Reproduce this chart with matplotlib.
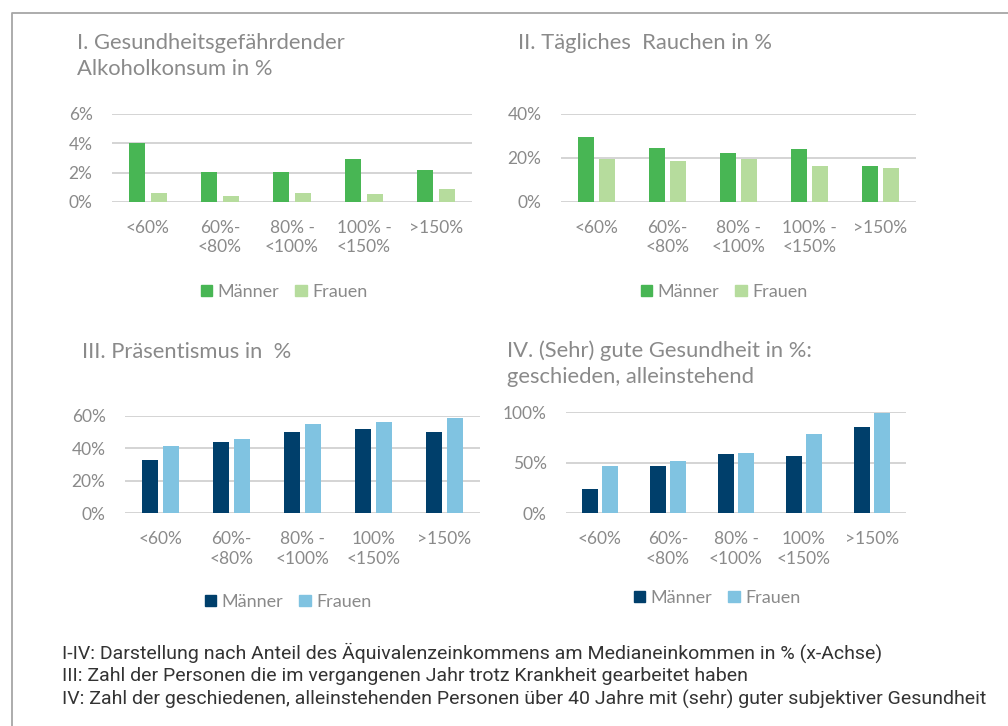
import matplotlib
matplotlib.use("Agg")
import matplotlib.pyplot as plt
from matplotlib.patches import Patch
from matplotlib.lines import Line2D
import numpy as np

categories_a = ["<60%", "60%-\n<80%", "80% -\n<100%", "100% -\n<150%", ">150%"]
categories_b = ["<60%", "60%-\n<80%", "80% -\n<100%", "100%\n<150%", ">150%"]

alkohol_m = [4.0, 2.05, 2.05, 2.9, 2.2]
alkohol_f = [0.62, 0.42, 0.62, 0.52, 0.88]
rauchen_m = [29.5, 24.7, 22.3, 24.1, 16.2]
rauchen_f = [19.6, 18.5, 19.6, 16.2, 15.4]
praes_m = [33.0, 43.6, 50.0, 52.0, 50.0]
praes_f = [41.4, 45.8, 55.0, 56.0, 58.3]
gesund_m = [24.5, 46.5, 58.5, 56.8, 85.8]
gesund_f = [46.8, 51.7, 60.0, 78.8, 99.5]

titles = ["I. Gesundheitsgefährdender\nAlkoholkonsum in %",
          "II. Tägliches  Rauchen in %",
          "III. Präsentismus in  %",
          "IV. (Sehr) gute Gesundheit in %:\ngeschieden, alleinstehend"]
footnotes = [
    "I-IV: Darstellung nach Anteil des Äquivalenzeinkommens am Medianeinkommen in % (x-Achse)",
    "III: Zahl der Personen die im vergangenen Jahr trotz Krankheit gearbeitet haben",
    "IV: Zahl der geschiedenen, alleinstehenden Personen über 40 Jahre mit (sehr) guter subjektiver Gesundheit",
]

GREEN = "#48b654"
LGREEN = "#b6dc9d"
DBLUE = "#003f6b"
LBLUE = "#80c3e1"
GRID = "#d4d4d4"
TXT = "#8a8a8a"

FONT = ["Lato", "DejaVu Sans"]
plt.rcParams['font.family'] = FONT

W, H = 1008, 726
fig = plt.figure(figsize=(W / 100, H / 100), dpi=100)


def px_axes(left, right, top, bottom):
    return fig.add_axes([left / W, 1 - bottom / H, (right - left) / W, (bottom - top) / H])


panels = [
    dict(box=(112, 472, 114, 202), m=alkohol_m, f=alkohol_f, cats=categories_a, ymax=6, step=2,
         cm=GREEN, cf=LGREEN, bw=0.222, off=0.146, title=titles[0], tpos=(77, 33),
         leg=(284, 292)),
    dict(box=(561, 916, 114, 202), m=rauchen_m, f=rauchen_f, cats=categories_a, ymax=40, step=20,
         cm=GREEN, cf=LGREEN, bw=0.225, off=0.148, title=titles[1], tpos=(518, 33),
         leg=(724, 292)),
    dict(box=(125, 480, 415.7, 513.3), m=praes_m, f=praes_f, cats=categories_b, ymax=60, step=20,
         cm=DBLUE, cf=LBLUE, bw=0.225, off=0.148, title=titles[2], tpos=(82, 342),
         leg=(288, 602)),
    dict(box=(566, 906, 412.3, 513.3), m=gesund_m, f=gesund_f, cats=categories_b, ymax=100, step=50,
         cm=DBLUE, cf=LBLUE, bw=0.235, off=0.14, title=titles[3], tpos=(507, 340),
         leg=(717, 598)),
]

for p in panels:
    ax = px_axes(*p["box"])
    x = np.arange(len(p["cats"]))
    ax.bar(x - p["off"], p["m"], width=p["bw"], color=p["cm"], zorder=3)
    ax.bar(x + p["off"], p["f"], width=p["bw"], color=p["cf"], zorder=3)
    ax.set_xlim(-0.5, len(p["cats"]) - 0.5)
    ax.set_ylim(0, p["ymax"])
    yt = np.arange(0, p["ymax"] + 0.001, p["step"])
    ax.set_yticks(yt)
    ax.set_yticklabels([f"{int(v)}%" for v in yt])
    ax.set_xticks(x)
    ax.set_xticklabels(p["cats"], linespacing=1.25)
    for s in ax.spines.values():
        s.set_visible(False)
    ax.yaxis.grid(True, color=GRID, linewidth=1.4, zorder=0)
    ax.set_axisbelow(True)
    ax.tick_params(axis='both', length=0, labelsize=12.5, labelcolor=TXT)
    ax.tick_params(axis='x', pad=13)
    ax.tick_params(axis='y', pad=14)
    fig.text(p["tpos"][0] / W, 1 - p["tpos"][1] / H, p["title"], fontsize=15.8,
             color=TXT, va='top', ha='left', linespacing=1.38)
    handles = [Patch(color=p["cm"], label="Männer"), Patch(color=p["cf"], label="Frauen")]
    leg = fig.legend(handles=handles, loc='center', ncol=2,
                     bbox_to_anchor=(p["leg"][0] / W, 1 - p["leg"][1] / H),
                     frameon=False, handlelength=0.62, handleheight=0.62, handletextpad=0.3,
                     columnspacing=0.9, prop=dict(family=FONT, size=13))
    for t in leg.get_texts():
        t.set_color(TXT)

for i, line in enumerate(footnotes):
    fig.text(62 / W, 1 - (653 + 23 * i) / H, line, fontsize=14, color="#333333",
             va='center', ha='left', family=["Roboto", "DejaVu Sans"])

# frame lines (left and top)
fig.add_artist(Line2D([12 / W, 12 / W, 1.0], [0.0, 1 - 13 / H, 1 - 13 / H],
                      transform=fig.transFigure, color="#a6a6a6", linewidth=1.3))

fig.savefig("out.png", dpi=100)
